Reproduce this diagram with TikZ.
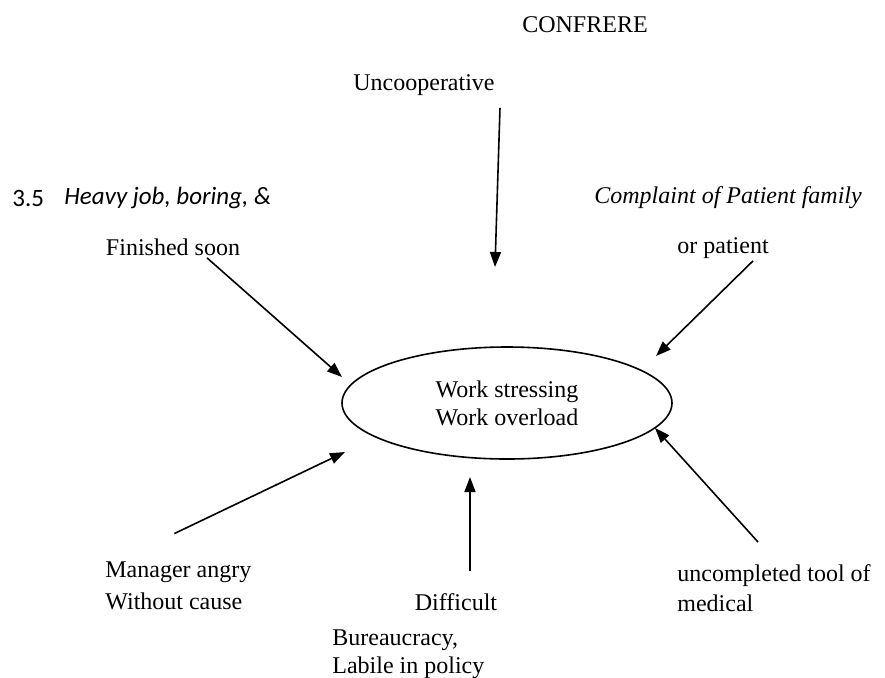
\documentclass[tikz,border=0pt]{standalone}
\usepackage{fontspec}
\setmainfont{Liberation Serif}
\newfontfamily\heavyfont{Carlito}
\usetikzlibrary{arrows.meta,shapes.geometric}

\begin{document}
\begin{tikzpicture}[x=0.5pt, y=-0.5pt,
    label/.style={font=\fontsize{12}{15}\selectfont, inner sep=1pt},
    cause/.style={label, align=left, anchor=west},
    flow/.style={-{Triangle[length=7.5pt,width=5.5pt]}, line width=0.8pt},
    core/.style={draw, ellipse, line width=0.8pt, minimum width=165pt, minimum height=56pt, inner sep=0pt, align=center, font=\fontsize{12}{15}\selectfont}]

        % Fix the page size
        \useasboundingbox (0,0) rectangle (885,677);

        % Title and the top cause
        \node[label] (confrere) at (585, 25) {CONFRERE};
        \node[label] (uncoop) at (424, 85) {Uncooperative};

        % Upper left and upper right causes
        \node[cause, font=\heavyfont\fontsize{12.5}{15}\selectfont] (num) at (10, 198) {3.5};
        \node[cause, font=\heavyfont\fontsize{12.5}{15}\selectfont] (heavy) at (62, 198) {\itshape Heavy job, boring, \&};
        \node[label] (finished) at (173, 247) {Finished soon};
        \node[cause] (complaint) at (592, 198) {\itshape Complaint of Patient family};
        \node[label] (orpatient) at (723, 248) {or patient};

        % The central stress
        \node[core] (stress) at (507, 403) {Work stressing\\[-1pt]Work overload};

        % Lower causes
        \node[cause, font=\fontsize{12}{16}\selectfont] (manager) at (103, 586) {Manager angry\\Without cause};
        \node[label] (difficult) at (456, 602) {Difficult};
        \node[cause, font=\fontsize{12}{14}\selectfont] (bureau) at (330, 654) {Bureaucracy,\\Labile in policy};
        \node[cause, font=\fontsize{12}{15}\selectfont] (tool) at (675, 588) {uncompleted tool of\\ medical};

        % Arrow heads near the ellipse
        \coordinate (tipunc) at (495, 267);
        \coordinate (tipfin) at (342, 377);
        \coordinate (tippat) at (656, 356);
        \coordinate (tipman) at (345, 452);
        \coordinate (tipdif) at (470, 477);
        \coordinate (tipmed) at (655, 428);

        % Draw the arrows into the stress
        \draw[flow] ([xshift=38pt, yshift=-5pt]uncoop.south) -- (tipunc);
        \draw[flow] ([xshift=17pt]finished.south) -- (tipfin);
        \draw[flow] ([xshift=15pt]orpatient.south) -- (tippat);
        \draw[flow] ([xshift=-2pt, yshift=13pt]manager.north) -- (tipman);
        \draw[flow] ([xshift=7pt, yshift=10pt]difficult.north) -- (tipdif);
        \draw[flow] ([xshift=-8pt, yshift=10pt]tool.north) -- (tipmed);

    \end{tikzpicture}
\end{document}
